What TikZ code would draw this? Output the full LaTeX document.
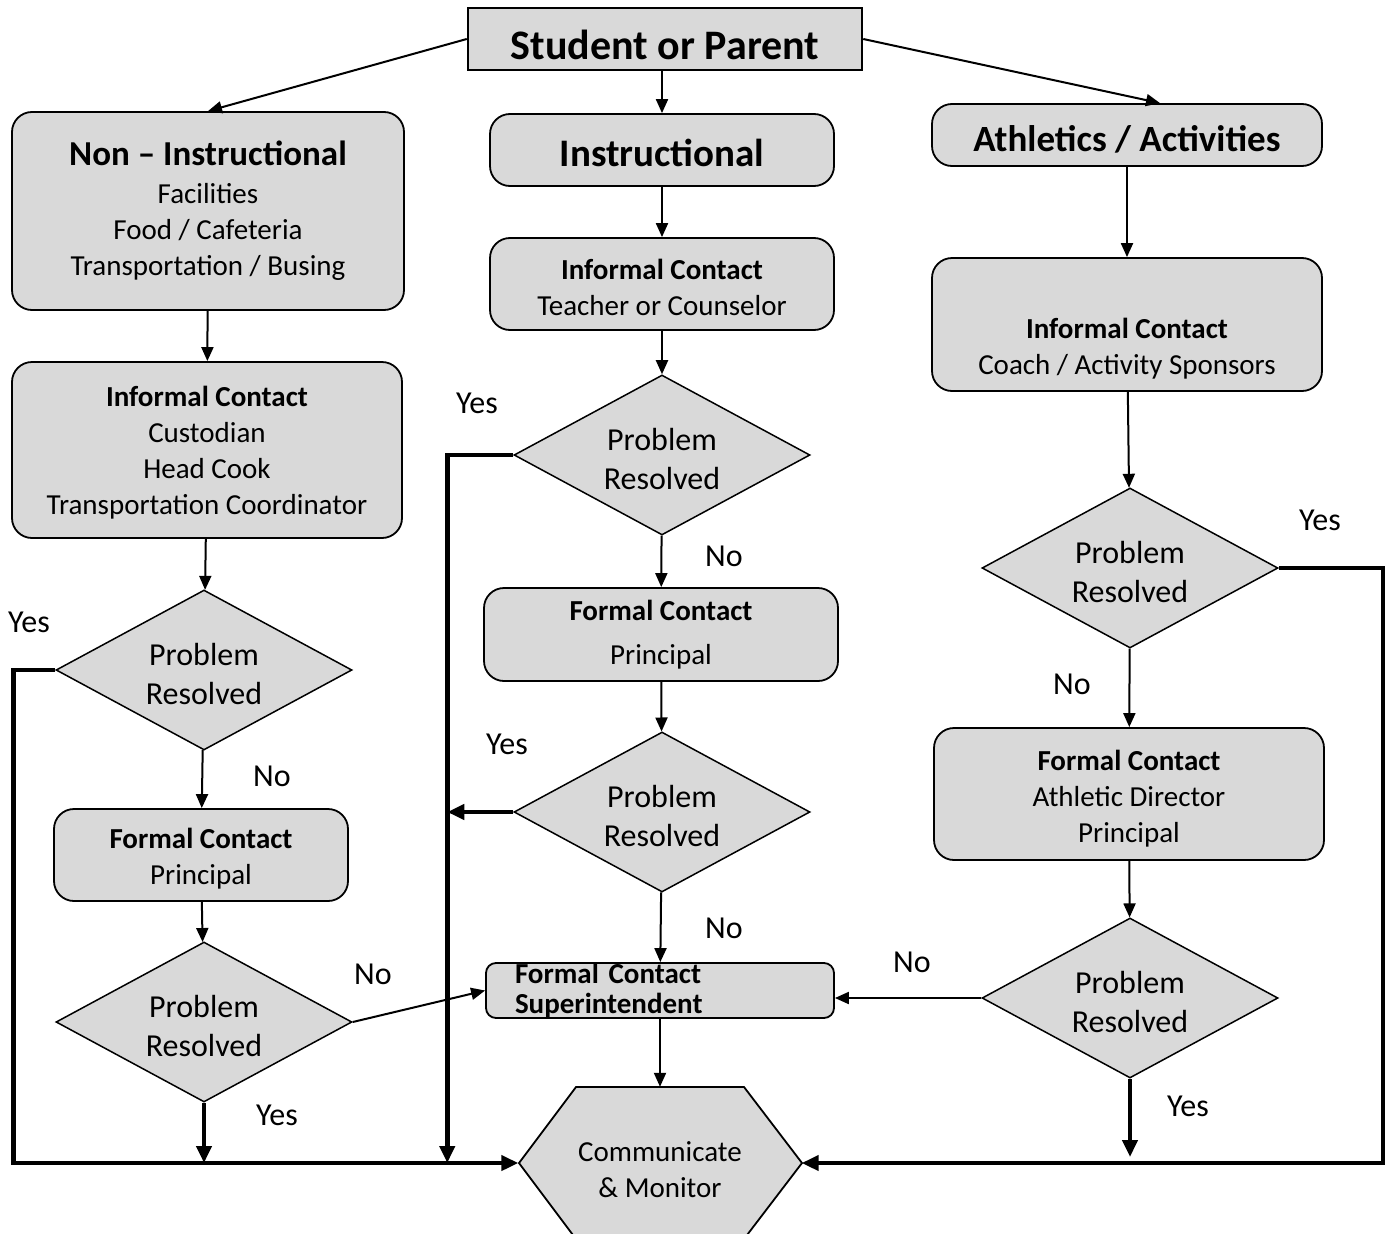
\documentclass[tikz,border=0pt]{standalone}
\usepackage{fontspec}
\setmainfont{Carlito}
\usetikzlibrary{shapes.geometric,arrows.meta,calc}
\definecolor{kastengrau}{RGB}{217,217,217}
\newcommand{\pr}{\rule{0pt}{30.5pt}Problem\\ Resolved}
\tikzset{
  senken/.style={execute at begin node={\rule{0pt}{#1}}},
  kasten/.style={draw,fill=kastengrau,rounded corners=20pt,line width=1.8pt,align=center,inner sep=0pt,font=\fontsize{29}{36}\selectfont},
  raute/.style={draw,fill=kastengrau,diamond,aspect=1.85,line width=1.5pt,inner sep=0pt,minimum width=296pt,minimum height=160pt,align=center,font=\fontsize{32}{39}\selectfont},
  pfeil/.style={line width=2pt,-{Triangle[length=14pt,width=12pt]}},
  dickpfeil/.style={line width=4.5pt,-{Triangle[length=17pt,width=15pt]}},
  marke/.style={font=\fontsize{32}{39}\selectfont,inner sep=0pt},
}
\begin{document}
\begin{tikzpicture}[x=1pt,y=-1pt]
\useasboundingbox (0,0) rectangle (1390,1234);
\clip (0,0) rectangle (1390,1234);

% Start
\node[draw,fill=kastengrau,line width=2.5pt,minimum width=394pt,minimum height=62pt,inner sep=0pt,senken=42pt,font=\fontsize{42}{48}\selectfont\bfseries] (student) at (665,39) {Student or Parent};

% Linke Spalte
\node[kasten,minimum width=392pt,minimum height=198pt] (nonins) at (208,211) {{\fontsize{35}{40}\selectfont\bfseries Non – Instructional}\\[2pt] Facilities\\ Food / Cafeteria\\ Transportation / Busing};
\node[kasten,minimum width=390pt,minimum height=176pt] (infL) at (207,450) {\rule{0pt}{26pt}\textbf{Informal Contact}\\ Custodian\\ Head Cook\\ Transportation Coordinator};
\node[raute] (diaL1) at (204,670) {\pr};
\node[kasten,minimum width=294pt,minimum height=92pt] (formL) at (201,855) {\rule{0pt}{28pt}\textbf{Formal Contact}\\ Principal};
\node[raute] (diaL2) at (204,1022) {\pr};

% Mittlere Spalte
\node[kasten,minimum width=344pt,minimum height=72pt,senken=33pt,font=\fontsize{39}{44}\selectfont\bfseries] (inst) at (662,150) {Instructional};
\node[kasten,minimum width=344pt,minimum height=92pt] (infM) at (662,284) {\rule{0pt}{28pt}\textbf{Informal Contact}\\ Teacher or Counselor};
\node[raute] (diaM1) at (662,455) {\pr};
\node[kasten,minimum width=354pt,minimum height=93pt] (formM) at (661,634.5) {\textbf{Formal Contact}\\[8pt] Principal};
\node[raute] (diaM2) at (662,812) {\pr};
\node[kasten,rounded corners=10pt,minimum height=55pt,inner xsep=29pt,text width=290pt,align=left,font=\fontsize{29}{30}\selectfont\bfseries] (super) at (660,990.5) {Formal Contact\\ Superintendent};

% Rechte Spalte
\node[kasten,minimum width=390pt,minimum height=62pt,senken=34pt,font=\fontsize{37}{42}\selectfont\bfseries] (athl) at (1127,135) {Athletics / Activities};
\node[kasten,minimum width=390pt,minimum height=133pt] (infR) at (1127,324.5) {\rule{0pt}{33pt}\\ \textbf{Informal Contact}\\ Coach / Activity Sponsors};
\node[raute] (diaR1) at (1130,568) {\pr};
\node[kasten,minimum width=390pt,minimum height=132pt] (formR) at (1129,794) {\rule{0pt}{30pt}\textbf{Formal Contact}\\ Athletic Director\\ Principal};
\node[raute] (diaR2) at (1130,998) {\pr};

% Ende
\draw[fill=kastengrau,line width=1.8pt] (519,1163) -- (576,1087) -- (744,1087) -- (802,1163) -- (744,1239) -- (576,1239) -- cycle;
\node[minimum width=283pt,minimum height=152pt,inner sep=0pt,align=center,font=\fontsize{29}{36}\selectfont] (comm) at (660,1163) {\rule{0pt}{34pt}Communicate\\ \& Monitor};

% Pfeile
\draw[pfeil] (student.west) -- (nonins.north);
\draw[pfeil] (inst.north |- student.south) -- (inst.north);
\draw[pfeil] (student.east) -- ($(athl.north)+(33,0)$);
\draw[pfeil] (nonins) -- (infL);
\draw[pfeil] (infL) -- (diaL1);
\draw[pfeil] (diaL1) -- (formL);
\draw[pfeil] (formL) -- (diaL2);
\draw[pfeil] (diaL2.east) -- (super.west);
\draw[pfeil] (inst) -- (infM);
\draw[pfeil] (infM) -- (diaM1);
\draw[pfeil] (diaM1) -- (formM);
\draw[pfeil] (formM) -- (diaM2);
\draw[pfeil] (diaM2) -- (super);
\draw[pfeil] (super) -- (comm.north);
\draw[pfeil] (athl) -- (infR);
\draw[pfeil] (infR) -- (diaR1);
\draw[pfeil] (diaR1) -- (formR);
\draw[pfeil] (formR) -- (diaR2);
\draw[pfeil] (diaR2.west) -- (diaR2.west -| super.east);

% Ja-Wege
\draw[dickpfeil] (diaL1.west) -- ++(-42,0) |- (comm.west);
\draw[dickpfeil] (diaL2.south) -- (diaL2.south |- comm.west);
\draw[dickpfeil] (diaM1.west) -- ++(-66,0) coordinate (mj) -- (mj |- comm.west);
\draw[dickpfeil] (diaM2.west) -- (mj |- diaM2.west);
\draw[dickpfeil] (diaR1.east) -- ++(104,0) |- (comm.east);
\draw[dickpfeil] (diaR2.south) -- ($(diaR2.south |- comm.east)+(0,-6)$);

% Beschriftungen
\node[marke] (yesL1) at (29,622) {Yes};
\node[marke] (noL1) at (272,776) {No};
\node[marke] (noL2) at (373,974) {No};
\node[marke] (yesL2) at (277,1115) {Yes};
\node[marke] (yesM1) at (477,403) {Yes};
\node[marke] (noM1) at (724,556) {No};
\node[marke] (yesM2) at (507,744) {Yes};
\node[marke] (noM2) at (724,928) {No};
\node[marke] (yesR1) at (1320,520) {Yes};
\node[marke] (noR1) at (1072,684) {No};
\node[marke] (noR2) at (912,962) {No};
\node[marke] (yesR2) at (1188,1106) {Yes};
\end{tikzpicture}
\end{document}
